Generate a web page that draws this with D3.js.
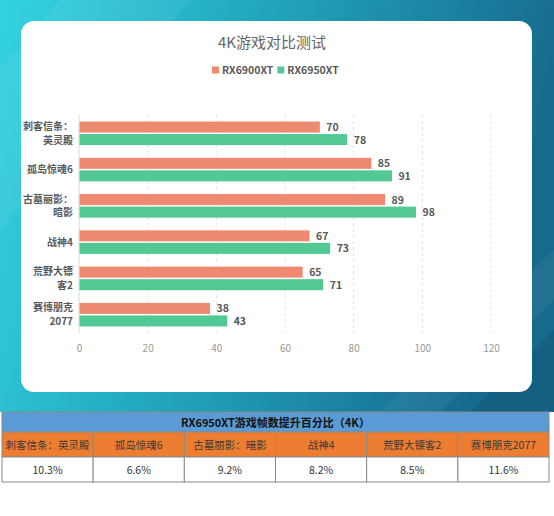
<!DOCTYPE html>
<html>
<head>
<meta charset="utf-8">
<script src="https://cdn.jsdelivr.net/npm/d3@7"></script>
<style>
  html, body { margin: 0; padding: 0; background: #fff; }
  svg { display: block; font-family: "Noto Sans CJK SC", "Noto Sans", sans-serif; }
</style>
</head>
<body>
<svg id="chart" width="554" height="516"></svg>
<script>
const chartTitle = '4K游戏对比测试'
const seriesNames = ['RX6900XT', 'RX6950XT']
const categories = ['刺客信条：英灵殿', '孤岛惊魂6', '古墓丽影：暗影', '战神4', '荒野大镖客2', '赛博朋克2077']
const categoryLines = [['刺客信条：', '英灵殿'], ['孤岛惊魂6'], ['古墓丽影：', '暗影'], ['战神4'], ['荒野大镖', '客2'], ['赛博朋克', '2077']]
const rx6900 = [70, 85, 89, 67, 65, 38]
const rx6950 = [78, 91, 98, 73, 71, 43]
const xTicks = [0, 20, 40, 60, 80, 100, 120]
const tableTitle = 'RX6950XT游戏帧数提升百分比（4K）'
const uplift = ['10.3%', '6.6%', '9.2%', '8.2%', '8.5%', '11.6%']

const colors = ['#ef8a72', '#52c994']
const W = 554, H = 516

const svg = d3.select('#chart')
const defs = svg.append('defs')

// background
const bg = defs.append('linearGradient').attr('id', 'bg')
  .attr('x1', '0%').attr('y1', '0%').attr('x2', '100%').attr('y2', '20%')
bg.append('stop').attr('offset', '0%').attr('stop-color', '#34d3e2')
bg.append('stop').attr('offset', '45%').attr('stop-color', '#22a7bf')
bg.append('stop').attr('offset', '100%').attr('stop-color', '#176a8e')

svg.append('rect').attr('width', W).attr('height', 412).attr('fill', 'url(#bg)')
svg.append('polygon').attr('points', '0,70 60,0 190,0 0,230')
  .attr('fill', '#ffffff').attr('opacity', 0.06)
svg.append('polygon').attr('points', '470,412 554,330 554,412')
  .attr('fill', '#0f5576').attr('opacity', 0.45)
svg.append('polygon').attr('points', '380,412 554,250 554,300 440,412')
  .attr('fill', '#ffffff').attr('opacity', 0.05)

// card
svg.append('rect').attr('x', 21).attr('y', 21).attr('width', 511).attr('height', 371)
  .attr('rx', 13).attr('fill', '#fff')

svg.append('text').attr('x', 272).attr('y', 48).attr('text-anchor', 'middle')
  .attr('font-size', 15).attr('fill', '#666').text(chartTitle)

// legend
const legend = svg.append('g').attr('transform', 'translate(212, 70)')
let lx = 0
seriesNames.forEach((name, i) => {
  legend.append('rect').attr('x', lx).attr('y', -3.5).attr('width', 7).attr('height', 7).attr('fill', colors[i])
  const t = legend.append('text').attr('x', lx + 10).attr('y', 4).attr('font-size', 10.5)
    .attr('font-weight', 'bold').attr('fill', '#595959').text(name)
  lx += 10 + t.node().getComputedTextLength() + 4
})

// scales
const x = d3.scaleLinear().domain([0, 120]).range([79, 491])
const y = d3.scaleBand().domain(categories).range([115, 333]).paddingInner(0.35).paddingOuter(0.18)
const ySub = d3.scaleBand().domain([0, 1]).range([0, y.bandwidth()]).paddingInner(0.12)

// grid
svg.append('g').selectAll('line').data(xTicks.slice(1)).enter().append('line')
  .attr('x1', d => x(d)).attr('x2', d => x(d)).attr('y1', 115).attr('y2', 333)
  .attr('stroke', '#e3e3e3').attr('stroke-dasharray', '3,3')

const xAxis = svg.append('g').attr('transform', 'translate(0, 333)')
  .call(d3.axisBottom(x).tickValues(xTicks).tickSize(0).tickPadding(12))
xAxis.select('.domain').remove()
xAxis.selectAll('text').attr('font-size', 10).attr('fill', '#999')
  .style('font-family', '"Noto Sans CJK SC", sans-serif')

svg.append('line').attr('x1', x(0)).attr('x2', x(0)).attr('y1', 115).attr('y2', 333)
  .attr('stroke', '#d9d9d9')

// category labels
const cat = svg.append('g').selectAll('text').data(categories).enter().append('text')
  .attr('text-anchor', 'end').attr('font-size', 10).attr('font-weight', 'bold').attr('fill', '#595959')
cat.each(function (d, i) {
  const lines = categoryLines[i]
  const cy = y(d) + y.bandwidth() / 2
  lines.forEach((ln, j) => {
    d3.select(this).append('tspan').attr('x', 73)
      .attr('y', cy + 3.5 + (j - (lines.length - 1) / 2) * 13.5).text(ln)
  })
})

// bars
const seriesData = [rx6900, rx6950]
seriesData.forEach((vals, s) => {
  const g = svg.append('g')
  g.selectAll('rect').data(vals).enter().append('rect')
    .attr('x', x(0) + 0.5)
    .attr('y', (d, i) => y(categories[i]) + ySub(s))
    .attr('width', d => x(d) - x(0))
    .attr('height', ySub.bandwidth())
    .attr('fill', colors[s])
  g.selectAll('text').data(vals).enter().append('text')
    .attr('x', d => x(d) + 7)
    .attr('y', (d, i) => y(categories[i]) + ySub(s) + ySub.bandwidth() / 2 + 4)
    .attr('font-size', 10.5).attr('font-weight', 'bold').attr('fill', '#595959')
    .text(d => d)
})

// table
const tx = d3.scaleBand().domain(categories).range([2, 549])
const rows = [412, 432, 457, 482]
const table = svg.append('g')
table.append('rect').attr('x', 2).attr('y', rows[0]).attr('width', 547).attr('height', rows[1] - rows[0])
  .attr('fill', '#5b9bd5').attr('stroke', '#8a8a8a')
table.append('text').attr('x', 275.5).attr('y', rows[0] + 14.5).attr('text-anchor', 'middle')
  .attr('font-size', 11).attr('font-weight', 'bold').attr('fill', '#111').text(tableTitle)

table.selectAll('.hcell').data(categories).enter().append('rect').attr('class', 'hcell')
  .attr('x', d => tx(d)).attr('y', rows[1]).attr('width', tx.bandwidth()).attr('height', rows[2] - rows[1])
  .attr('fill', '#ed7d31').attr('stroke', '#8a8a8a')
table.selectAll('.htext').data(categories).enter().append('text').attr('class', 'htext')
  .attr('x', d => tx(d) + tx.bandwidth() / 2).attr('y', rows[1] + 16.5).attr('text-anchor', 'middle')
  .attr('font-size', 10.5).attr('fill', '#3a3a3a').text(d => d)

table.selectAll('.vcell').data(categories).enter().append('rect').attr('class', 'vcell')
  .attr('x', d => tx(d)).attr('y', rows[2]).attr('width', tx.bandwidth()).attr('height', rows[3] - rows[2])
  .attr('fill', '#fff').attr('stroke', '#8a8a8a')
table.selectAll('.vtext').data(uplift).enter().append('text').attr('class', 'vtext')
  .attr('x', (d, i) => tx(categories[i]) + tx.bandwidth() / 2).attr('y', rows[2] + 16.5).attr('text-anchor', 'middle')
  .attr('font-size', 10.5).attr('fill', '#333').text(d => d)
</script>
</body>
</html>
